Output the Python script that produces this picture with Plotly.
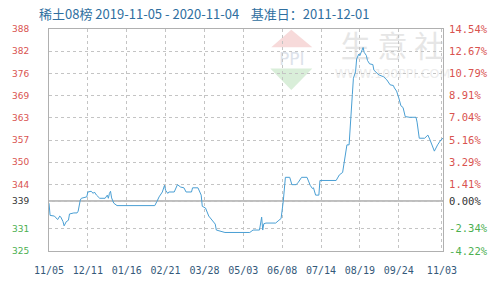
import plotly.graph_objects as go

# ---- data ----
dates = [
    "2019-11-05", "2019-11-06", "2019-11-10", "2019-11-12", "2019-11-13", "2019-11-15",
    "2019-11-16", "2019-11-18", "2019-11-19", "2019-11-21", "2019-11-23", "2019-11-24",
    "2019-11-28", "2019-12-01", "2019-12-02", "2019-12-04", "2019-12-05", "2019-12-10",
    "2019-12-11", "2019-12-14", "2019-12-16", "2019-12-17", "2019-12-19", "2019-12-22",
    "2019-12-27", "2019-12-29", "2019-12-30", "2019-12-31", "2020-01-01", "2020-01-02",
    "2020-01-04", "2020-01-07", "2020-02-11", "2020-02-13", "2020-02-15", "2020-02-18",
    "2020-02-20", "2020-02-21", "2020-02-23", "2020-02-24", "2020-02-29", "2020-03-03",
    "2020-03-06", "2020-03-09", "2020-03-11", "2020-03-16", "2020-03-17", "2020-03-22",
    "2020-03-23", "2020-03-25", "2020-03-26", "2020-03-29", "2020-04-01", "2020-04-04",
    "2020-04-07", "2020-04-08", "2020-04-13", "2020-04-16", "2020-05-09", "2020-05-12",
    "2020-05-18", "2020-05-20", "2020-05-21", "2020-05-22", "2020-05-24", "2020-06-02",
    "2020-06-05", "2020-06-07", "2020-06-09", "2020-06-11", "2020-06-15", "2020-06-17",
    "2020-06-21", "2020-06-23", "2020-06-26", "2020-07-01", "2020-07-04", "2020-07-06",
    "2020-07-07", "2020-07-09", "2020-07-12", "2020-07-13", "2020-07-28", "2020-07-31",
    "2020-08-03", "2020-08-04", "2020-08-06", "2020-08-07", "2020-08-09", "2020-08-10",
    "2020-08-12", "2020-08-13", "2020-08-15", "2020-08-16", "2020-08-18", "2020-08-19",
    "2020-08-21", "2020-08-22", "2020-08-23", "2020-08-25", "2020-08-26", "2020-08-28",
    "2020-08-31", "2020-09-01", "2020-09-04", "2020-09-06", "2020-09-10", "2020-09-13",
    "2020-09-16", "2020-09-19", "2020-09-20", "2020-09-22", "2020-09-24", "2020-09-26",
    "2020-09-28", "2020-09-30", "2020-10-04", "2020-10-10", "2020-10-11", "2020-10-13",
    "2020-10-18", "2020-10-21", "2020-10-23", "2020-10-26", "2020-10-27", "2020-10-30",
    "2020-11-02", "2020-11-04",
]
values = [
    338.4, 334.9, 334.7, 334.0, 333.7, 334.7,
    334.4, 333.1, 331.9, 333.1, 333.5, 335.3,
    335.6, 335.6, 336.1, 339.3, 339.8, 340.2,
    341.6, 341.8, 341.2, 341.6, 340.7, 339.8,
    339.8, 340.7, 339.8, 341.2, 341.8, 339.9,
    338.4, 337.7, 337.7, 338.9, 340.2, 341.6,
    343.5, 342.1, 341.2, 341.6, 341.6, 343.7,
    343.0, 342.8, 341.6, 341.6, 342.8, 342.8,
    342.1, 340.7, 337.5, 337.0, 334.7, 333.7,
    332.4, 330.7, 330.3, 330.0, 330.0, 330.7,
    330.7, 334.4, 330.7, 332.5, 332.7, 332.7,
    333.5, 334.0, 338.9, 345.8, 345.8, 343.7,
    343.7, 344.4, 345.8, 345.8, 343.5, 342.6,
    342.8, 340.7, 340.7, 344.9, 344.9, 346.5,
    347.2, 349.1, 352.8, 355.1, 355.1, 361.2,
    369.5, 374.2, 376.0, 379.7, 381.1, 380.7,
    382.5, 383.0, 381.6, 380.7, 379.3, 378.3,
    378.1, 376.5, 375.6, 375.1, 374.6, 373.7,
    372.3, 372.1, 371.4, 370.5, 368.6, 366.3,
    365.8, 363.2, 363.0, 363.0, 361.6, 357.0,
    357.0, 357.9, 356.5, 354.2, 353.3, 355.1,
    356.5, 357.0,
]

base = 339.0
pct_ticks = [14.54, 12.67, 10.79, 8.91, 7.04, 5.16, 3.29, 1.41, 0.00, -2.34, -4.22]
left_labels = ["388", "382", "376", "369", "363", "357", "350", "344", "339", "331", "325"]
right_labels = ["14.54%", "12.67%", "10.79%", "8.91%", "7.04%", "5.16%", "3.29%",
                "1.41%", "0.00%", "-2.34%", "-4.22%"]
x_tick_dates = ["2019-11-05", "2019-12-11", "2020-01-16", "2020-02-21", "2020-03-28",
                "2020-05-03", "2020-06-08", "2020-07-14", "2020-08-19", "2020-09-24",
                "2020-11-03"]
x_tick_labels = ["11/05", "12/11", "01/16", "02/21", "03/28", "05/03", "06/08",
                 "07/14", "08/19", "09/24", "11/03"]

title_text = "稀土08榜 2019-11-05 - 2020-11-04\u00a0\u00a0\u00a0 基准日：2011-12-01"

# ---- styling ----
RED = "#d9534f"
GREEN = "#4caf50"
BLACK = "#333333"
LINE = "#4a9fd4"
GRID = "#c4c4c4"


def col(p):
    if p > 0:
        return RED
    if p < 0:
        return GREEN
    return BLACK


tickvals = [base * (1 + p / 100) for p in pct_ticks]
left_text = [f'<span style="color:{col(p)}">{t}</span>' for p, t in zip(pct_ticks, left_labels)]
right_text = [f'<span style="color:{col(p)}">{t}</span>' for p, t in zip(pct_ticks, right_labels)]
yrange = [base * (1 + pct_ticks[-1] / 100), base * (1 + pct_ticks[0] / 100)]

fig = go.Figure()
fig.add_trace(go.Scatter(x=dates, y=values, mode="lines",
                         line=dict(color=LINE, width=1), hoverinfo="skip",
                         showlegend=False))
fig.add_trace(go.Scatter(x=dates, y=values, mode="lines", yaxis="y2",
                         line=dict(width=0), opacity=0, hoverinfo="skip",
                         showlegend=False))

fig.add_hline(y=base, line=dict(color="#a8a8a8", width=1.5), layer="below")

# ---- watermark (decoration, paper coordinates) ----
L, R, T, B = 39, 452, 29.3, 257.5


def xp(px):
    return (px - L) / (R - L)


def yp(py):
    return (B - py) / (B - T)


def path(pts):
    return "M " + " L ".join(f"{xp(a):.4f},{yp(b):.4f}" for a, b in pts) + " Z"


fig.add_shape(type="path", xref="paper", yref="paper", layer="below",
              path=path([(293, 30), (315, 48), (272, 48)]),
              fillcolor="#f7dada", line=dict(width=0))
fig.add_shape(type="path", xref="paper", yref="paper", layer="below",
              path=path([(271, 70), (315, 70), (293, 92)]),
              fillcolor="#d9eed9", line=dict(width=0))
fig.add_shape(type="rect", xref="paper", yref="paper", layer="below",
              x0=xp(270), x1=xp(317), y0=yp(68), y1=yp(50),
              line=dict(width=0), fillcolor="rgba(0,0,0,0)",
              label=dict(text="PPI", font=dict(size=17, color="#dde2ea", family="DejaVu Sans")))
fig.add_shape(type="rect", xref="paper", yref="paper", layer="below",
              x0=xp(336), x1=xp(462), y0=yp(66), y1=yp(34),
              line=dict(width=0), fillcolor="rgba(0,0,0,0)",
              label=dict(text="生 意 社", font=dict(size=30, color="#e6e6e6", family="Noto Sans CJK SC")))
fig.add_shape(type="rect", xref="paper", yref="paper", layer="below",
              x0=xp(336), x1=xp(462), y0=yp(82), y1=yp(68),
              line=dict(width=0), fillcolor="rgba(0,0,0,0)",
              label=dict(text="WWW.100PPI.COM", font=dict(size=12.5, color="#ececec", family="DejaVu Sans")))

fig.update_layout(
    width=500, height=288,
    margin=dict(l=39, r=48, t=29, b=31),
    paper_bgcolor="white", plot_bgcolor="white",
    title=dict(text=title_text, x=39 / 500, xanchor="left", xref="container",
               y=1 - 14 / 288, yanchor="middle", yref="container",
               font=dict(family="Noto Sans CJK SC", size=13, color="#2f6fa0")),
    xaxis=dict(type="date", range=["2019-11-05", "2020-11-04"],
               tickvals=x_tick_dates, ticktext=x_tick_labels,
               tickfont=dict(family="DejaVu Sans Mono", size=10, color="#34597a"),
               showgrid=True, gridcolor=GRID, griddash="dot", gridwidth=1,
               showline=True, linecolor="#b0b0b0", linewidth=1, mirror=True,
               ticks="outside", ticklen=10, tickcolor="rgba(0,0,0,0)",
               zeroline=False, fixedrange=True),
    yaxis=dict(range=yrange, tickvals=tickvals, ticktext=left_text,
               tickfont=dict(family="DejaVu Sans", size=9),
               showgrid=True, gridcolor=GRID, griddash="dot", gridwidth=1,
               showline=True, linecolor="#b0b0b0", linewidth=1, mirror=True,
               ticks="outside", ticklen=17, tickcolor="rgba(0,0,0,0)",
               zeroline=False, fixedrange=True),
    yaxis2=dict(range=yrange, overlaying="y", side="right", tickvals=tickvals,
                ticktext=right_text,
                tickfont=dict(family="DejaVu Sans Mono", size=10.5),
                showgrid=False, showline=False, zeroline=False,
                ticks="outside", ticklen=3, tickcolor="rgba(0,0,0,0)",
                fixedrange=True),
)

fig.write_html("out.html")
